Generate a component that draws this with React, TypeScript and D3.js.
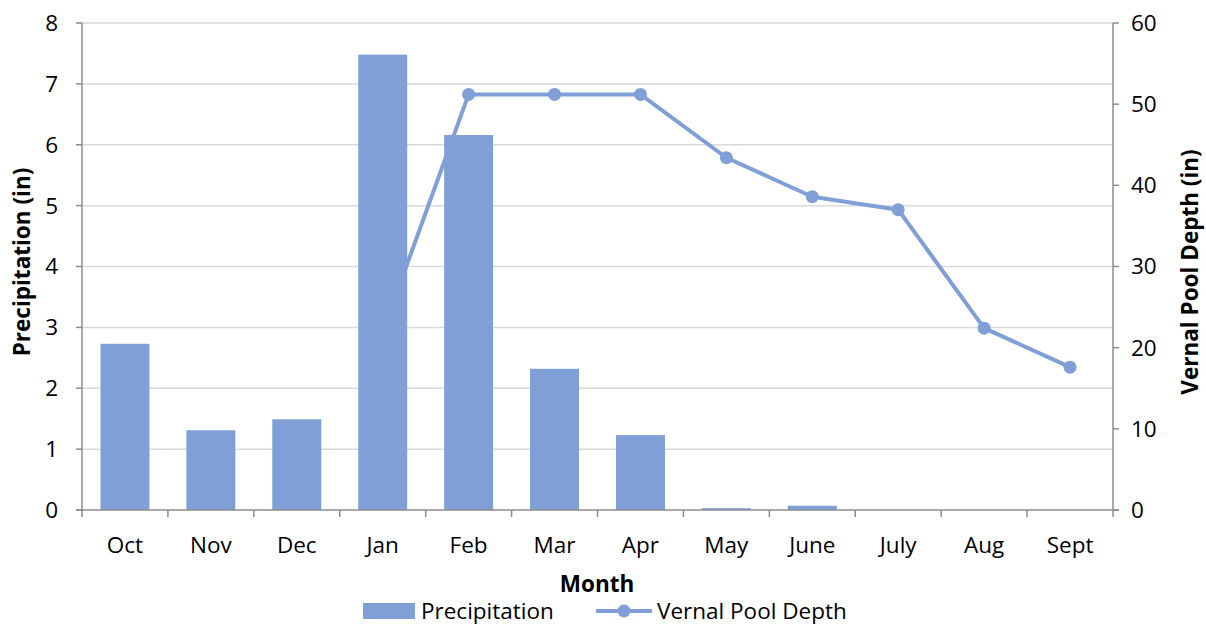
import React from "react";
import * as d3 from "d3";

const months = ["Oct", "Nov", "Dec", "Jan", "Feb", "Mar", "Apr", "May", "June", "July", "Aug", "Sept"];
const precipitation = [2.73, 1.31, 1.49, 7.48, 6.16, 2.32, 1.23, 0.03, 0.07, 0, 0, 0];
const poolMonths = ["Jan", "Feb", "Mar", "Apr", "May", "June", "July", "Aug", "Sept"];
const poolDepth = [22, 51.2, 51.2, 51.2, 43.4, 38.6, 37.0, 22.4, 17.6];
const leftTicks = [0, 1, 2, 3, 4, 5, 6, 7, 8];
const rightTicks = [0, 10, 20, 30, 40, 50, 60];

const W = 1206, H = 625;
const L = 82, R = 1113, T = 23, B = 510;
const COLOR = "#7F9FD6";
const FONT = "'Open Sans', 'Noto Sans', sans-serif";
const FS = 22.5;

export default function App() {
  const x = d3.scaleBand<string>().domain(months).range([L, R]).paddingInner(0.43).paddingOuter(0.215);
  const xb = d3.scaleBand<string>().domain(months).range([L, R]);
  const yL = d3.scaleLinear().domain([0, 8]).range([B, T]);
  const yR = d3.scaleLinear().domain([0, 60]).range([B, T]);
  const line = d3.line<number>().x((_, i) => xb(poolMonths[i])! + xb.bandwidth() / 2).y((d) => yR(d));
  const pts = poolDepth.map((d, i) => [xb(poolMonths[i])! + xb.bandwidth() / 2, yR(d)]);
  return (
    <svg width={W} height={H} style={{ position: "absolute", left: 0, top: 0 }} fontFamily={FONT}>
      <rect width={W} height={H} fill="#fff" />
      {leftTicks.slice(1).map((t) => (
        <line key={t} x1={L} x2={R} y1={yL(t)} y2={yL(t)} stroke="#D9D9D9" strokeWidth={1.5} />
      ))}
      <path d={line(poolDepth)!} fill="none" stroke={COLOR} strokeWidth={4} strokeLinejoin="round" />
      {pts.map((p, i) => (
        <circle key={i} cx={p[0]} cy={p[1]} r={6.5} fill={COLOR} />
      ))}
      {precipitation.map((v, i) => (
        <rect key={i} x={x(months[i])} width={x.bandwidth()} y={yL(v)} height={B - yL(v)} fill={COLOR} />
      ))}
      {/* axes */}
      <line x1={L} x2={L} y1={T} y2={B} stroke="#8C8C8C" strokeWidth={1.5} />
      <line x1={R} x2={R} y1={T} y2={B} stroke="#8C8C8C" strokeWidth={1.5} />
      <line x1={L - 6} x2={R + 6} y1={B} y2={B} stroke="#8C8C8C" strokeWidth={1.5} />
      {leftTicks.map((t) => (
        <g key={t}>
          <line x1={L - 6} x2={L} y1={yL(t)} y2={yL(t)} stroke="#8C8C8C" strokeWidth={1.5} />
          <text x={L - 24} y={yL(t)} dy="0.35em" textAnchor="end" fontSize={FS} fill="#000">{t}</text>
        </g>
      ))}
      {rightTicks.map((t) => (
        <g key={t}>
          <line x1={R} x2={R + 6} y1={yR(t)} y2={yR(t)} stroke="#8C8C8C" strokeWidth={1.5} />
          <text x={R + 18} y={yR(t)} dy="0.35em" textAnchor="start" fontSize={FS} fill="#000">{t}</text>
        </g>
      ))}
      {months.map((m) => (
        <g key={m}>
          <line x1={xb(m)!} x2={xb(m)!} y1={B} y2={B + 7} stroke="#8C8C8C" strokeWidth={1.5} />
          <text x={xb(m)! + xb.bandwidth() / 2} y={545} dy="0.35em" textAnchor="middle" fontSize={FS} fill="#000">{m}</text>
        </g>
      ))}
      <line x1={R} x2={R} y1={B} y2={B + 7} stroke="#8C8C8C" strokeWidth={1.5} />
      <text x={597} y={584} dy="0.35em" textAnchor="middle" fontSize={FS} fontWeight="bold">Month</text>
      <text transform={`translate(22,262) rotate(-90)`} textAnchor="middle" dy="0.35em" fontSize={FS} fontWeight="bold">Precipitation (in)</text>
      <text transform={`translate(1190,272) rotate(-90)`} textAnchor="middle" dy="0.35em" fontSize={FS} fontWeight="bold">Vernal Pool Depth (in)</text>
      {/* legend */}
      <rect x={363} y={603} width={52} height={16} fill={COLOR} />
      <text x={421} y={611} dy="0.35em" fontSize={FS}>Precipitation</text>
      <line x1={596} x2={652} y1={611} y2={611} stroke={COLOR} strokeWidth={4} />
      <circle cx={624} cy={611} r={6.5} fill={COLOR} />
      <text x={657} y={611} dy="0.35em" fontSize={FS}>Vernal Pool Depth</text>
    </svg>
  );
}
